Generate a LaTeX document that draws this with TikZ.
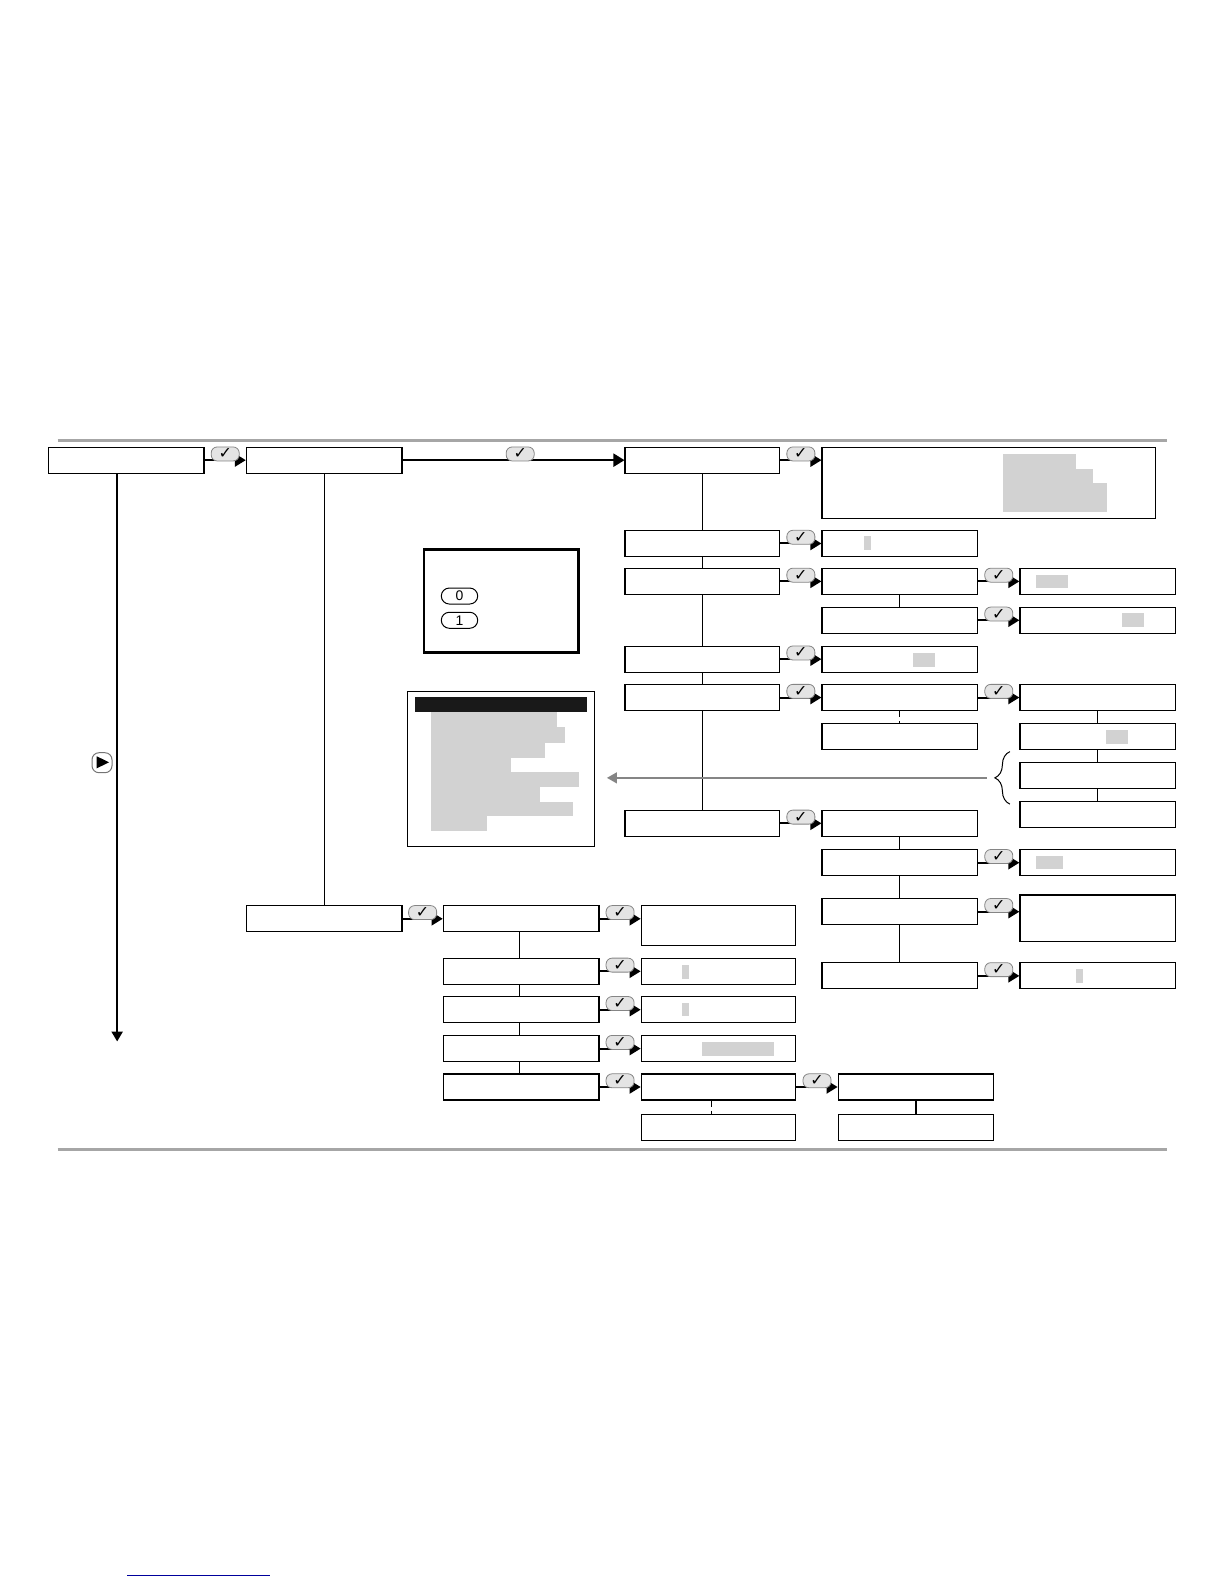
\documentclass[tikz,border=0pt]{standalone}
\usepackage{fontspec}
\usepackage{xcolor}
\setmainfont{Liberation Sans}
\newfontfamily\symfont{DejaVu Sans}
\usetikzlibrary{arrows.meta,decorations.pathreplacing}
\definecolor{mgrey}{HTML}{D2D2D2}
\definecolor{mrule}{HTML}{A6A6A6}
\definecolor{mkey}{HTML}{E4E4E4}
\definecolor{mblue}{HTML}{00009C}
\newcommand{\okmark}{{\symfont\char"2713}}

\begin{document}
\begin{tikzpicture}[
    x=0.50495bp, y=-0.50510bp,
    screen/.style={rectangle, draw=black, fill=white, line width=0.6bp, inner sep=0pt, minimum width=77.8bp, minimum height=13bp},
    panel/.style={rectangle, draw=black, fill=white, inner sep=0pt},
    flow/.style={line width=1bp, -{Triangle[length=5.5bp,width=6.5bp]}},
    link/.style={line width=0.6bp},
    okkey/.style={rectangle, draw=mrule!80!black, fill=mkey, line width=0.4bp, rounded corners=3bp, inner sep=0pt, minimum width=14bp, minimum height=7bp, font=\fontsize{8}{8}\selectfont, anchor=south, yshift=-0.6bp},
    numkey/.style={rectangle, draw=black, line width=0.5bp, rounded corners=4bp, inner sep=0pt, minimum width=18.2bp, minimum height=8bp, font=\fontsize{7}{7}\selectfont},
    greyed/.style={fill=mgrey},
    toprule/.style={draw=mrule, line width=1.2bp}
]
    \useasboundingbox (0,0) rectangle (1212,1568);

    % Page rules
    \draw[toprule] (57,436) -- (1156,436);
    \draw[toprule] (57,1138) -- (1156,1138);
    \draw[mblue, line width=0.7bp] (126,1559.5) -- (267,1559.5);

    % Left boxes
    \node[screen] (setup) at (125,455.5) {};
    \node[screen] (system) at (321,455.5) {};
    \node[screen] (service) at (321,909.5) {};
    \coordinate (sidetip) at (116,1031);
    \node[draw=mrule!70!black, fill=white, line width=0.5bp, rounded corners=3.5bp, minimum width=10bp, minimum height=10bp, inner sep=0pt] (playkey) at (101,755) {};
    \fill (95.7,748.6) -- (108,754.6) -- (95.7,760.6) -- cycle;

    % Middle column
    \node[screen, minimum width=77.3bp] (item1) at (695.5,455.5) {};
    \node[screen, minimum width=77.3bp] (item2) at (695.5,538) {};
    \node[screen, minimum width=77.3bp] (item3) at (695.5,575.5) {};
    \node[screen, minimum width=77.3bp] (item4) at (695.5,652.5) {};
    \node[screen, minimum width=77.3bp] (item5) at (695.5,690.5) {};
    \node[screen, minimum width=77.3bp] (item6) at (695.5,815) {};

    % Second level, upper part
    \node[screen, minimum width=166.6bp, minimum height=35.3bp] (wide) at (979,478) {};
    \node[screen] (val2) at (891,538) {};
    \node[screen] (sub3a) at (891,575.5) {};
    \node[screen] (sub3b) at (891,614) {};
    \node[screen] (val4) at (891,652.5) {};
    \node[screen] (sub5a) at (891,690.5) {};
    \node[screen] (sub5b) at (891,729) {};
    \node[screen] (sub6a) at (891,815) {};
    \node[screen] (sub6b) at (891,854) {};
    \node[screen] (sub6c) at (891,902.5) {};
    \node[screen] (sub6d) at (891,966) {};

    % Third level
    \node[screen] (val3a) at (1087,575.5) {};
    \node[screen] (val3b) at (1087,614) {};
    \node[screen] (opt1) at (1087,690.5) {};
    \node[screen] (opt2) at (1087,729) {};
    \node[screen] (opt3) at (1087,767.5) {};
    \node[screen] (opt4) at (1087,806) {};
    \node[screen] (val6b) at (1087,854) {};
    \node[screen, minimum height=23.2bp] (val6c) at (1087,909) {};
    \node[screen] (val6d) at (1087,966) {};

    % Lower group
    \node[screen] (svc1) at (516,909.5) {};
    \node[screen] (svc2) at (516,961.5) {};
    \node[screen] (svc3) at (516,999.5) {};
    \node[screen] (svc4) at (516,1038) {};
    \node[screen] (svc5) at (516,1076) {};
    \node[screen, minimum width=77.3bp, minimum height=20.2bp] (res1) at (711.5,916) {};
    \node[screen, minimum width=77.3bp] (res2) at (711.5,961.5) {};
    \node[screen, minimum width=77.3bp] (res3) at (711.5,999.5) {};
    \node[screen, minimum width=77.3bp] (res4) at (711.5,1038) {};
    \node[screen, minimum width=77.3bp] (res5a) at (711.5,1076) {};
    \node[screen, minimum width=77.3bp] (res5b) at (711.5,1116) {};
    \node[screen] (end5a) at (907,1076) {};
    \node[screen] (end5b) at (907,1116) {};

    % Grey fields
    \fill[greyed] (993,449) rectangle (1065,464);
    \fill[greyed] (993,464) rectangle (1082,478);
    \fill[greyed] (993,478) rectangle (1096,507);
    \fill[greyed] (856,531) rectangle (862,544);
    \fill[greyed] (1026,569) rectangle (1058,582);
    \fill[greyed] (1111,607) rectangle (1133,621);
    \fill[greyed] (904,646) rectangle (926,660);
    \fill[greyed] (1095,723) rectangle (1117,736);
    \fill[greyed] (1026,847) rectangle (1053,860);
    \fill[greyed] (1065,959) rectangle (1072,973);
    \fill[greyed] (675,955) rectangle (682,969);
    \fill[greyed] (675,993) rectangle (682,1006);
    \fill[greyed] (695,1031) rectangle (766,1045);

    % Key panel
    \node[panel, line width=1.3bp, minimum width=77.3bp, minimum height=51.5bp] (keypanel) at (496.5,595) {};
    \node[numkey] (key0) at (455,590) {0};
    \node[numkey] (key1) at (455,614) {1};

    % Menu panel
    \node[panel, line width=0.5bp, minimum width=93.9bp, minimum height=77.3bp] (menupanel) at (496,761.5) {};
    \fill[black!90] (411,690) rectangle (581,705);
    \fill[greyed] (427,705) rectangle (552,720);
    \fill[greyed] (427,720) rectangle (559,735);
    \fill[greyed] (427,735) rectangle (540,750);
    \fill[greyed] (427,750) rectangle (506,764);
    \fill[greyed] (427,764) rectangle (573,779);
    \fill[greyed] (427,779) rectangle (535,794);
    \fill[greyed] (427,794) rectangle (567,808);
    \fill[greyed] (427,808) rectangle (482,823);

    % Vertical links
    \draw[line width=1.1bp, -{Triangle[length=5bp,width=5.5bp]}] (setup.south -| sidetip) -- (sidetip);
    \draw[link] (system) -- (service);
    \draw[link] (item1) -- (item2);
    \draw[link] (item2) -- (item3);
    \draw[link] (item3) -- (item4);
    \draw[link] (item4) -- (item5);
    \draw[link] (item5) -- (item6);
    \draw[link] (sub3a) -- (sub3b);
    \draw[line width=0.5bp, densely dashed] (sub5a) -- (sub5b);
    \draw[link] (opt1) -- (opt2);
    \draw[link] (opt2) -- (opt3);
    \draw[link] (opt3) -- (opt4);
    \draw[link] (sub6a) -- (sub6b);
    \draw[link] (sub6b) -- (sub6c);
    \draw[link] (sub6c) -- (sub6d);
    \draw[link] ([xshift=-0.7bp]svc1.south) -- ([xshift=-0.7bp]svc2.north);
    \draw[link] ([xshift=-0.7bp]svc2.south) -- ([xshift=-0.7bp]svc3.north);
    \draw[link] ([xshift=-0.7bp]svc3.south) -- ([xshift=-0.7bp]svc4.north);
    \draw[link] ([xshift=-0.7bp]svc4.south) -- ([xshift=-0.7bp]svc5.north);
    \draw[line width=0.5bp, densely dashed] ([xshift=-3.4bp]res5a.south) -- ([xshift=-3.4bp]res5b.north);
    \draw[link] (end5a) -- (end5b);

    % Arrows with the confirm key
    \draw[flow] (setup) -- node[okkey] {\okmark} (system);
    \draw[flow] (system) -- node[okkey, pos=0.53] {\okmark} (item1);
    \draw[flow] (item1.east) -- node[okkey] {\okmark} (item1.east -| wide.west);
    \draw[flow] (item2) -- node[okkey] {\okmark} (val2);
    \draw[flow] (item3) -- node[okkey] {\okmark} (sub3a);
    \draw[flow] (sub3a) -- node[okkey] {\okmark} (val3a);
    \draw[flow] (sub3b) -- node[okkey] {\okmark} (val3b);
    \draw[flow] (item4) -- node[okkey] {\okmark} (val4);
    \draw[flow] (item5) -- node[okkey] {\okmark} (sub5a);
    \draw[flow] (sub5a) -- node[okkey] {\okmark} (opt1);
    \draw[flow] (item6) -- node[okkey] {\okmark} (sub6a);
    \draw[flow] (sub6b) -- node[okkey] {\okmark} (val6b);
    \draw[flow] (sub6c) -- node[okkey] {\okmark} (sub6c -| val6c.west);
    \draw[flow] (sub6d) -- node[okkey] {\okmark} (val6d);
    \draw[flow] (service) -- node[okkey] {\okmark} (svc1);
    \draw[flow] (svc1.east) -- node[okkey] {\okmark} (svc1.east -| res1.west);
    \draw[flow] (svc2) -- node[okkey] {\okmark} (res2);
    \draw[flow] (svc3) -- node[okkey] {\okmark} (res3);
    \draw[flow] (svc4) -- node[okkey] {\okmark} (res4);
    \draw[flow] (svc5) -- node[okkey] {\okmark} (res5a);
    \draw[flow] (res5a) -- node[okkey] {\okmark} (end5a);

    % Brace and grey arrow to the menu
    \coordinate (bracetop) at (1000,744);
    \coordinate (bracebot) at (1000,796);
    \coordinate (arrowfrom) at (977,770);
    \coordinate (arrowto) at (601,770);
    \draw[line width=0.5bp, decorate, decoration={brace, amplitude=7.5bp}] (bracebot) -- (bracetop);
    \draw[mrule!80!black, line width=0.7bp, -{Triangle[length=5bp,width=5.5bp]}] (arrowfrom) -- (arrowto);

\end{tikzpicture}
\end{document}
